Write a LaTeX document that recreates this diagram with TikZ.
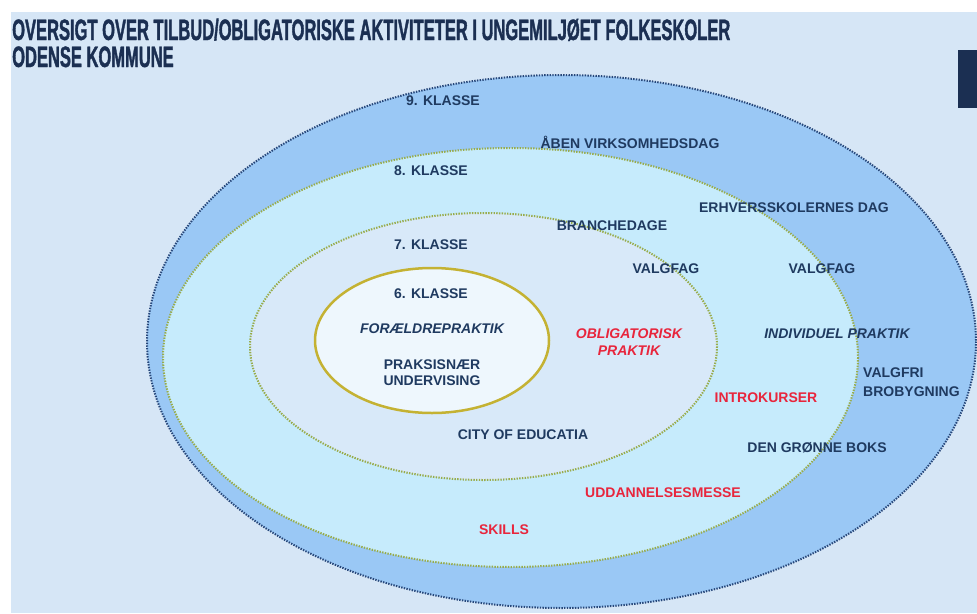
\documentclass[tikz,border=0pt]{standalone}
\usepackage{fontspec}
\setmainfont{Liberation Sans}
\newfontfamily\titlefont[FakeStretch=0.56,FakeBold=1.2]{Liberation Sans}
\definecolor{bgblue}{HTML}{D6E6F6}
\definecolor{band9}{HTML}{9AC8F5}
\definecolor{band8}{HTML}{C6EBFC}
\definecolor{band7}{HTML}{D8E9F9}
\definecolor{band6}{HTML}{EEF7FD}
\definecolor{navydot}{HTML}{27477A}
\definecolor{greendot}{HTML}{98AC4C}
\definecolor{goldline}{HTML}{C4B233}
\definecolor{navytext}{HTML}{1F3A60}
\definecolor{redtext}{HTML}{E8253C}
\definecolor{titlenavy}{HTML}{1B2F52}
\begin{document}
\begin{tikzpicture}[x=1pt,y=-1pt,line join=round,font=\fontsize{14}{16}\selectfont\bfseries,
	dotring/.style={line width=2pt,dash pattern=on 1.4pt off 1.3pt},
	lbl/.style={text=navytext,align=center,inner sep=0pt},
	redlbl/.style={lbl,text=redtext},
	titlelbl/.style={anchor=base west,inner sep=0pt,text=titlenavy,font=\fontsize{29.5}{31}\selectfont\titlefont\bfseries}]
	\useasboundingbox (0,0) rectangle (977,613);
	\fill[white] (0,0) rectangle (977,613);
	\fill[bgblue] (11,12) rectangle (977,613);
	\fill[titlenavy] (958,50) rectangle (977,108);
	% rings, 9. klasse out to 6. klasse in
	\draw[fill=band9,draw=navydot,dotring] (561.5,341.5) ellipse [x radius=414.5,y radius=266.5];
	\draw[fill=band8,draw=greendot,dotring] (510.5,357.5) ellipse [x radius=347.5,y radius=209.5];
	\draw[fill=band7,draw=greendot,dotring] (483.5,346.5) ellipse [x radius=233.5,y radius=133.5];
	\draw[fill=band6,draw=goldline,line width=2.5pt] (432,340.5) ellipse [x radius=117,y radius=72.5];
	% title
	\node[titlelbl] (title1) at (12,40) {OVERSIGT OVER TILBUD/OBLIGATORISKE AKTIVITETER I UNGEMILJØET FOLKESKOLER};
	\node[titlelbl] (title2) at (12,67) {ODENSE KOMMUNE};
	% labels
	\node[lbl] (k9) at (443,101) {9. KLASSE};
	\node[lbl] (aaben) at (630,142) {ÅBEN VIRKSOMHEDSDAG};
	\node[lbl] (k8) at (431,171) {8. KLASSE};
	\node[lbl] (erhverv) at (794,208) {ERHVERSSKOLERNES DAG};
	\node[lbl] (branche) at (612,226) {BRANCHEDAGE};
	\node[lbl] (k7) at (431,245) {7. KLASSE};
	\node[lbl] (valgfag7) at (666,269) {VALGFAG};
	\node[lbl] (valgfag8) at (822,269) {VALGFAG};
	\node[lbl] (k6) at (431,294) {6. KLASSE};
	\node[lbl,font=\fontsize{14}{16}\selectfont\bfseries\itshape] (foraeldre) at (432,329) {FORÆLDREPRAKTIK};
	\node[lbl] (praksis) at (432,373) {PRAKSISNÆR\\UNDERVISING};
	\node[redlbl,font=\fontsize{14}{17}\selectfont\bfseries\itshape] (oblig) at (629,342) {OBLIGATORISK\\PRAKTIK};
	\node[lbl,font=\fontsize{14}{16}\selectfont\bfseries\itshape] (individuel) at (837,334) {INDIVIDUEL PRAKTIK};
	\node[lbl,align=left,anchor=west,font=\fontsize{14}{19}\selectfont\bfseries] (valgfri) at (863,382) {VALGFRI\\BROBYGNING};
	\node[redlbl] (intro) at (766,398) {INTROKURSER};
	\node[lbl] (city) at (523,435) {CITY OF EDUCATIA};
	\node[lbl] (groenne) at (817,448) {DEN GRØNNE BOKS};
	\node[redlbl] (messe) at (663,493) {UDDANNELSESMESSE};
	\node[redlbl] (skills) at (504,530) {SKILLS};
\end{tikzpicture}
\end{document}
